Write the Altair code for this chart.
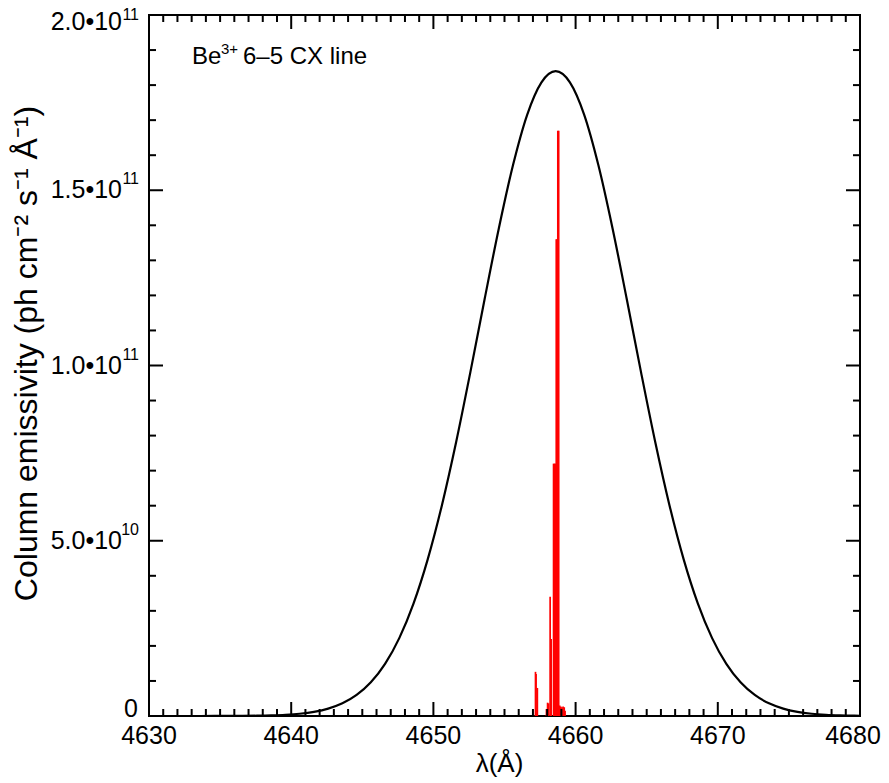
import altair as alt
import pandas as pd

# ---------------- data ----------------
gauss_lam = [4630.0, 4630.6, 4631.6, 4632.6, 4633.6, 4634.6, 4635.6, 4636.6, 4637.6, 4638.6,
             4639.6, 4640.6, 4641.6, 4642.6, 4643.6, 4644.6, 4645.6, 4646.6, 4647.6, 4648.6,
             4649.6, 4650.6, 4651.6, 4652.6, 4653.6, 4654.6, 4655.6, 4656.6, 4657.6, 4658.6,
             4659.6, 4660.6, 4661.6, 4662.6, 4663.6, 4664.6, 4665.6, 4666.6, 4667.6, 4668.6,
             4669.6, 4670.6, 4671.6, 4672.6, 4673.6, 4674.6, 4675.6, 4676.6, 4677.6, 4678.6,
             4679.6, 4680.0]
# emissivity in units of 1e10
gauss_val = [0.0, 0.0, 0.0, 0.0001, 0.0003, 0.0008, 0.0018, 0.0039, 0.0083, 0.0170,
             0.0336, 0.0641, 0.118, 0.210, 0.361, 0.600, 0.961, 1.487, 2.222, 3.207,
             4.470, 6.016, 7.818, 9.811, 11.89, 13.91, 15.72, 17.16, 18.08, 18.40,
             18.08, 17.16, 15.72, 13.91, 11.89, 9.811, 7.818, 6.016, 4.470, 3.207,
             2.222, 1.487, 0.961, 0.600, 0.361, 0.210, 0.118, 0.0641, 0.0336, 0.0170,
             0.0083, 0.0062]

red_lam = [4657.18, 4657.22, 4657.31, 4657.95, 4658.03, 4658.10, 4658.21, 4658.28, 4658.45,
           4658.52, 4658.58, 4658.64, 4658.70, 4658.75, 4658.81, 4658.88, 4658.96, 4659.04,
           4659.12, 4659.20, 4659.26]
red_val = [1.26, 1.20, 0.80, 0.20, 0.38, 0.36, 3.40, 2.20, 7.20,
           7.20, 7.20, 13.6, 13.6, 16.7, 16.7, 0.30, 0.27, 0.25,
           0.27, 0.25, 0.15]

x_major = [4630, 4640, 4650, 4660, 4670, 4680]
x_labels = ["4630", "4640", "4650", "4660", "4670", "4680"]
y_major = [0, 5e10, 1e11, 1.5e11, 2e11]
y_base = ["0", "5.0\u202210", "1.0\u202210", "1.5\u202210", "2.0\u202210"]
y_exp = ["", "10", "11", "11", "11"]

x_minor = [v for v in range(4631, 4680) if v % 10 != 0]
y_minor = [k * 1e10 for k in range(1, 20) if k % 5 != 0]

SCALE = 1e10
X0, X1 = 4630, 4680
Y0, Y1 = 0, 2e11
W, H = 711, 701
FONT = "Liberation Sans, Arial, sans-serif"
TICK_COLOR = "black"

# tick lengths (pixels) expressed in data units
MAJ_PX, MIN_PX = 14, 7
xt_maj_len = MAJ_PX / H * (Y1 - Y0)
xt_min_len = MIN_PX / H * (Y1 - Y0)
yt_maj_len = MAJ_PX / W * (X1 - X0)
yt_min_len = MIN_PX / W * (X1 - X0)

gdf = pd.DataFrame({"lam": gauss_lam, "val": [v * SCALE for v in gauss_val]})
rdf = pd.DataFrame({"lam": red_lam, "val": [v * SCALE for v in red_val], "zero": 0.0})
xmaj = pd.DataFrame({"v": x_major, "lab": x_labels})
ymaj = pd.DataFrame({"v": y_major, "base": y_base, "exp": y_exp})

# tick segments (inward ticks on all four sides)
xt_rows = []
for v in x_major:
    xt_rows += [(v, Y0, Y0 + xt_maj_len), (v, Y1, Y1 - xt_maj_len)]
for v in x_minor:
    xt_rows += [(v, Y0, Y0 + xt_min_len), (v, Y1, Y1 - xt_min_len)]
xtdf = pd.DataFrame(xt_rows, columns=["tx", "ta", "tb"])

yt_rows = []
for v in y_major:
    yt_rows += [(v, X0, X0 + yt_maj_len), (v, X1, X1 - yt_maj_len)]
for v in y_minor:
    yt_rows += [(v, X0, X0 + yt_min_len), (v, X1, X1 - yt_min_len)]
ytdf = pd.DataFrame(yt_rows, columns=["ty", "sa", "sb"])

xs = alt.Scale(domain=[X0, X1], nice=False, zero=False)
ys = alt.Scale(domain=[Y0, Y1], nice=False)

X = lambda f: alt.X(f, type="quantitative", scale=xs, axis=None)
Y = lambda f: alt.Y(f, type="quantitative", scale=ys, axis=None)

curve = alt.Chart(gdf).mark_line(color="black", strokeWidth=2.2, interpolate="monotone").encode(
    x=X("lam"), y=Y("val"))

sticks = alt.Chart(rdf).mark_rule(color="#ff0000", strokeWidth=1.7).encode(
    x=X("lam"), y=Y("val"), y2="zero")

xticks = alt.Chart(xtdf).mark_rule(color=TICK_COLOR, strokeWidth=2).encode(
    x=X("tx"), y=Y("ta"), y2="tb")
yticks = alt.Chart(ytdf).mark_rule(color=TICK_COLOR, strokeWidth=2).encode(
    y=Y("ty"), x=X("sa"), x2="sb")

LAB = 25
xlab = alt.Chart(xmaj).transform_filter("datum.v < 4680").mark_text(
    font=FONT, fontSize=LAB, baseline="middle", align="center", color="black").encode(
    x=X("v"), y=alt.value(H + 20), text="lab:N")
xlab_last = alt.Chart(xmaj).transform_filter("datum.v == 4680").mark_text(
    font=FONT, fontSize=LAB, baseline="middle", align="center", color="black", dx=-7).encode(
    x=X("v"), y=alt.value(H + 20), text="lab:N")

mid = "datum.exp != '' && datum.v < 2e11"
ylab_base = alt.Chart(ymaj).transform_filter(mid).mark_text(
    font=FONT, fontSize=LAB, baseline="middle", align="right", color="black").encode(
    y=Y("v"), x=alt.value(-27), text="base:N")
ylab_exp = alt.Chart(ymaj).transform_filter(mid).mark_text(
    font=FONT, fontSize=16, baseline="middle", align="right", color="black", dy=-11).encode(
    y=Y("v"), x=alt.value(-10), text="exp:N")
ylab_top_base = alt.Chart(ymaj).transform_filter("datum.v == 2e11").mark_text(
    font=FONT, fontSize=LAB, baseline="middle", align="right", color="black", dy=7).encode(
    y=Y("v"), x=alt.value(-27), text="base:N")
ylab_top_exp = alt.Chart(ymaj).transform_filter("datum.v == 2e11").mark_text(
    font=FONT, fontSize=16, baseline="middle", align="right", color="black", dy=0).encode(
    y=Y("v"), x=alt.value(-10), text="exp:N")
ylab_zero = alt.Chart(ymaj).transform_filter("datum.exp == ''").mark_text(
    font=FONT, fontSize=LAB, baseline="middle", align="right", color="black", dy=-7).encode(
    y=Y("v"), x=alt.value(-11), text="base:N")

one = alt.Chart(xmaj).transform_filter("datum.v == 4630")

xtitle = one.mark_text(
    font=FONT, fontSize=26, baseline="middle", align="center", color="black").encode(
    x=alt.value(W / 2 - 5), y=alt.value(H + 48), text=alt.value("\u03bb(\u00c5)"))

ytitle = one.mark_text(
    font=FONT, fontSize=32, baseline="middle", align="center", angle=270, color="black").encode(
    x=alt.value(-122), y=alt.value(H / 2 - 12),
    text=alt.value("Column emissivity (ph cm\u207b\u00b2 s\u207b\u00b9 \u00c5\u207b\u00b9)"))

annot_style = dict(font=FONT, baseline="middle", align="left", color="black")
annot_a = one.mark_text(fontSize=24, **annot_style).encode(
    x=alt.value(43), y=alt.value(42), text=alt.value("Be"))
annot_b = one.mark_text(fontSize=15, **annot_style).encode(
    x=alt.value(72), y=alt.value(34), text=alt.value("3+"))
annot_c = one.mark_text(fontSize=24, **annot_style).encode(
    x=alt.value(94), y=alt.value(42), text=alt.value("6\u20135 CX line"))

chart = alt.layer(
    curve, sticks, xticks, yticks,
    xlab, xlab_last, ylab_base, ylab_exp, ylab_top_base, ylab_top_exp, ylab_zero, xtitle, ytitle,
    annot_a, annot_b, annot_c
).properties(
    width=W, height=H,
    padding={"left": 141, "top": 7, "right": 21, "bottom": 61},
    autosize=alt.AutoSizeParams(type="none"),
).configure_view(stroke="black", strokeWidth=2)

chart.save("out.html", embed_options={"renderer": "svg", "actions": False})
